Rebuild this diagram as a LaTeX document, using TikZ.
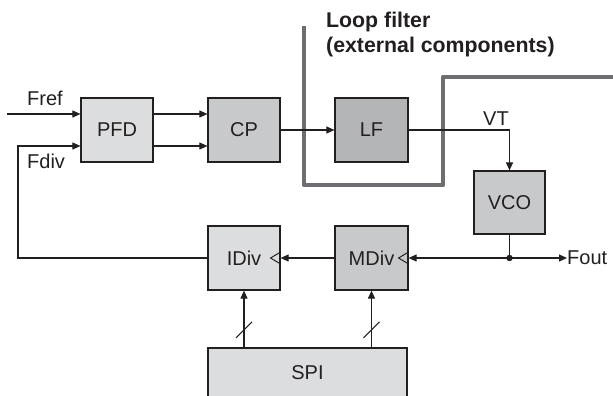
\documentclass[tikz,border=0pt]{standalone}
\usepackage{fontspec}
\setmainfont{Liberation Sans}
\usetikzlibrary{arrows.meta,calc}
\definecolor{ink}{HTML}{231F20}
\definecolor{fillA}{HTML}{DCDDDF}
\definecolor{fillB}{HTML}{C8C9CB}
\definecolor{fillC}{HTML}{B3B4B6}
\definecolor{lfgray}{HTML}{6D6E71}
\tikzset{
  blk/.style={draw=ink, line width=1.2pt, inner sep=0pt, text=ink,
    minimum width=72pt, minimum height=64pt,
    font=\fontsize{20}{24}\selectfont},
  lbl/.style={inner sep=0pt, text=ink, font=\fontsize{20}{24}\selectfont},
  blbl/.style={inner sep=0pt, text=ink, font=\fontsize{21.3}{25}\selectfont\bfseries},
  wire/.style={draw=ink, line width=1.1pt},
  arr/.style={wire, -{Triangle[length=8pt,width=7pt]}},
  clk/.style={draw=ink, line width=1pt},
  lfline/.style={draw=lfgray, line width=4.3pt, line join=round, line cap=butt},
}
\begin{document}
\begin{tikzpicture}[x=1pt,y=-1pt]
\useasboundingbox (0,0) rectangle (613,396);
\clip (0,0) rectangle (613,396);
\fill[white] (0,0) rectangle (613,396);

% loop filter boundary
\draw[lfline] (304,26) -- (304,185) -- (443,185) -- (443,77) -- (615,77);
\node[blbl, anchor=base west] (lft1) at (326,28) {Loop filter};
\node[blbl, anchor=base west] (lft2) at (326,53) {(external components)};

% blocks
\node[blk, fill=fillA] (PFD) at (117,130) {PFD};
\node[blk, fill=fillB] (CP) at (244,130) {CP};
\node[blk, fill=fillC, minimum width=73pt] (LF) at (371.5,130) {LF};
\node[blk, fill=fillB, minimum width=71pt, minimum height=63pt] (VCO) at (509.5,202.5) {VCO};
\node[blk, fill=fillA] (IDiv) at (244,258) {IDiv};
\node[blk, fill=fillB, minimum width=73pt] (MDiv) at (371.5,258) {MDiv};
\node[blk, fill=fillA, minimum width=199pt, minimum height=50pt] (SPI) at (307.5,373) {SPI};

% helper coordinates
\coordinate (r1) at (0,114);
\coordinate (r2) at (0,146);
\coordinate (frefin) at (7,114);
\coordinate (lp) at (18,146);
\coordinate (dot) at (509.5,258);

% labels
\node[lbl, anchor=base west] (fref) at (27,106) {Fref};
\node[lbl, anchor=base west] (fdiv) at (27,168) {Fdiv};
\node[lbl, anchor=base west] (vt) at (483,125) {VT};
\node[lbl, anchor=west] (fout) at (567,258) {Fout};

% connectors
\draw[arr] (frefin) -- (frefin -| PFD.west);
\draw[arr] (IDiv.west) -| (lp) -- (lp -| PFD.west);
\draw[arr] (PFD.east |- r1) -- (CP.west |- r1);
\draw[arr] (PFD.east |- r2) -- (CP.west |- r2);
\draw[arr] (CP.east) -- (LF.west);
\draw[arr] (LF.east) -| (VCO.north);
\draw[wire] (VCO.south) -- (dot);
\fill[ink] (dot) circle (3.2pt);
\draw[arr] (dot) -- (fout.west);
\draw[arr] (dot) -- (MDiv.east);
\draw[arr] (MDiv.west) -- (IDiv.east);
\draw[arr] (SPI.north -| IDiv.south) -- (IDiv.south);
\draw[arr] (SPI.north -| MDiv.south) -- (MDiv.south);

% bus slashes
\coordinate (s1) at ($(SPI.north -| IDiv.south)!0.31!(IDiv.south)$);
\coordinate (s2) at ($(SPI.north -| MDiv.south)!0.31!(MDiv.south)$);
\draw[wire] ([shift={(-8,8)}]s1) -- ([shift={(8,-8)}]s1);
\draw[wire] ([shift={(-8,8)}]s2) -- ([shift={(8,-8)}]s2);

% clock symbols
\draw[clk] ([yshift=6pt]IDiv.east) -- ([xshift=-10pt]IDiv.east) -- ([yshift=-6pt]IDiv.east);
\draw[clk] ([yshift=6pt]MDiv.east) -- ([xshift=-10pt]MDiv.east) -- ([yshift=-6pt]MDiv.east);
\end{tikzpicture}
\end{document}
